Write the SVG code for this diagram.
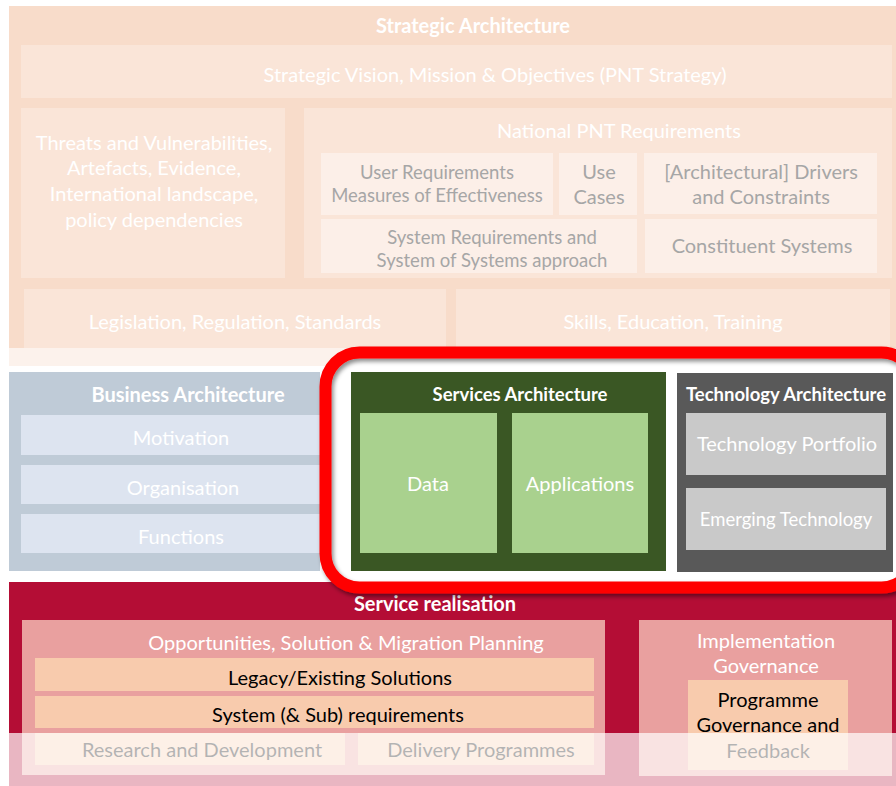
<svg xmlns="http://www.w3.org/2000/svg" width="896" height="786" viewBox="0 0 896 786">
<defs>
<style>
text{font-family:Lato,"Liberation Sans",sans-serif;text-anchor:middle;font-size:20px}
.w{fill:#fff}
.b{font-weight:bold;font-size:20px}
.bs{font-size:18.5px}
.s{font-size:18.5px}
.g{fill:#a6a6a6}
.k{fill:#000}
.sa{fill:#f8dcca}
.sb{fill:#fae5d8}
.sc{fill:#fcefe8}
.bz{fill:#dde4f0}
.pk{fill:#e9a09f}
.or{fill:#f8cbad}
</style>
<filter id="sh" x="-10%" y="-10%" width="120%" height="130%">
<feDropShadow dx="2" dy="3" stdDeviation="2" flood-color="#000" flood-opacity="0.45"/>
</filter>
</defs>
<rect width="896" height="786" fill="#fff"/>
<g id="strategic">
<rect class="sa" x="9" y="6" width="900" height="342"/>
<rect x="9" y="348" width="900" height="18" fill="#fcf2ec"/>
<text class="w b" x="473" y="33">Strategic Architecture</text>
</g>
<g id="vision">
<rect class="sb" x="21" y="45" width="871" height="53"/>
<text class="w" x="495" y="82">Strategic Vision, Mission &amp; Objectives (PNT Strategy)</text>
</g>
<g id="threats">
<rect class="sb" x="21" y="108" width="264" height="170"/>
<text class="w" x="154" y="150">Threats and Vulnerabilities,</text>
<text class="w" x="154" y="175">Artefacts, Evidence,</text>
<text class="w" x="154" y="201">International landscape,</text>
<text class="w" x="154" y="227">policy dependencies</text>
</g>
<g id="national">
<rect class="sb" x="304" y="108" width="588" height="170"/>
<text class="w" x="619" y="138">National PNT Requirements</text>
</g>
<g id="user-req">
<rect class="sc" x="321" y="153" width="232" height="62"/>
<text class="g s" x="437" y="179">User Requirements</text>
<text class="g s" x="437" y="202">Measures of Effectiveness</text>
</g>
<g id="use-cases">
<rect class="sc" x="559" y="153" width="78" height="62"/>
<text class="g" x="599" y="179">Use</text>
<text class="g" x="599" y="204">Cases</text>
</g>
<g id="drivers">
<rect class="sc" x="644" y="153" width="233" height="61"/>
<text class="g" x="761" y="179">[Architectural] Drivers</text>
<text class="g" x="761" y="204">and Constraints</text>
</g>
<g id="sys-req">
<rect class="sc" x="321" y="219" width="316" height="54"/>
<text class="g s" x="492" y="244">System Requirements and</text>
<text class="g s" x="492" y="267">System of Systems approach</text>
</g>
<g id="constituent">
<rect class="sc" x="645" y="219" width="232" height="54"/>
<text class="g" x="762" y="253">Constituent Systems</text>
</g>
<g id="legislation">
<rect class="sb" x="24" y="289" width="422" height="59"/>
<text class="w" x="235" y="329">Legislation, Regulation, Standards</text>
</g>
<g id="skills">
<rect class="sb" x="456" y="289" width="434" height="59"/>
<text class="w" x="673" y="329">Skills, Education, Training</text>
</g>
<g id="business">
<rect x="9" y="372" width="311" height="199" fill="#bfcbd7"/>
<text class="w b" x="188" y="402">Business Architecture</text>
</g>
<g id="motivation">
<rect class="bz" x="21" y="415" width="299" height="40"/>
<text class="w" x="181" y="445">Motivation</text>
</g>
<g id="organisation">
<rect class="bz" x="21" y="465" width="299" height="39"/>
<text class="w" x="183" y="495">Organisation</text>
</g>
<g id="functions">
<rect class="bz" x="21" y="514" width="299" height="39"/>
<text class="w" x="181" y="544">Functions</text>
</g>
<g id="service-realisation">
<rect x="9" y="582" width="900" height="210" fill="#b40d35"/>
<text class="w b" x="435" y="611">Service realisation</text>
</g>
<rect x="325.5" y="352.5" width="590" height="235" rx="34" fill="#fff"/>
<g id="services">
<rect x="351" y="372" width="315" height="199" fill="#3a5724"/>
<text class="w b bs" x="520" y="401">Services Architecture</text>
</g>
<g id="data">
<rect x="360" y="413" width="137" height="140" fill="#a9d18e"/>
<text class="w" x="428" y="491">Data</text>
</g>
<g id="applications">
<rect x="512" y="413" width="136" height="140" fill="#a9d18e"/>
<text class="w" x="580" y="491">Applications</text>
</g>
<g id="technology">
<rect x="677" y="373" width="216" height="199" fill="#595959"/>
<text class="w b bs" x="786" y="401">Technology Architecture</text>
</g>
<g id="portfolio">
<rect x="686" y="413" width="200" height="62" fill="#c9c9c9"/>
<text class="w" x="787" y="451">Technology Portfolio</text>
</g>
<g id="emerging">
<rect x="686" y="488" width="200" height="62" fill="#c9c9c9"/>
<text class="w s" x="786" y="526">Emerging Technology</text>
</g>
<g id="highlight">
<rect x="325.5" y="352.5" width="590" height="235" rx="34" fill="none" stroke="#ff0000" stroke-width="12" filter="url(#sh)"/>
</g>
<g id="opportunities">
<rect class="pk" x="22" y="620" width="583" height="155"/>
<text class="w" x="346" y="650">Opportunities, Solution &amp; Migration Planning</text>
</g>
<g id="legacy">
<rect class="or" x="35" y="658" width="559" height="33"/>
<text class="k" x="340" y="685">Legacy/Existing Solutions</text>
</g>
<g id="sys-sub">
<rect class="or" x="35" y="696" width="559" height="32"/>
<text class="k" x="338" y="722">System (&amp; Sub) requirements</text>
</g>
<g id="research">
<rect class="or" x="35" y="733" width="310" height="32"/>
<text class="k" x="202" y="757">Research and Development</text>
</g>
<g id="delivery">
<rect class="or" x="358" y="733" width="236" height="32"/>
<text class="k" x="481" y="757">Delivery Programmes</text>
</g>
<g id="implementation">
<rect class="pk" x="639" y="620" width="253" height="156"/>
<text class="w" x="766" y="648">Implementation</text>
<text class="w" x="766" y="673">Governance</text>
</g>
<g id="programme">
<rect class="or" x="688" y="680" width="160" height="90"/>
<text class="k" x="768" y="707">Programme</text>
<text class="k" x="768" y="732">Governance and</text>
<text class="k" x="768" y="758">Feedback</text>
</g>
<rect x="9" y="733" width="900" height="60" fill="#fff" opacity="0.7"/>
<g id="connectors"/>
</svg>
